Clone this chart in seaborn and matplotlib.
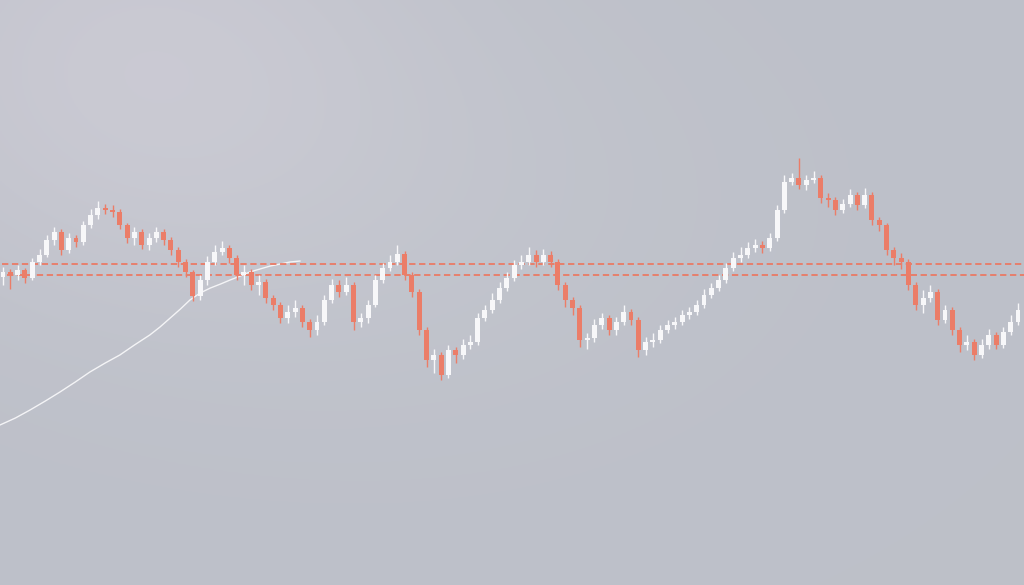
import numpy as np
import pandas as pd
import matplotlib
matplotlib.use("Agg")
import matplotlib.pyplot as plt
import seaborn as sns

# ---- data (price units) ----
opens = [308, 313, 310, 315, 307, 323, 330, 345, 353, 335, 347, 343, 360, 370, 377, 375, 373, 360, 347, 353,
         340, 347, 353, 345, 335, 323, 313, 289, 305, 323, 333, 337, 327, 310, 313, 300, 303, 287, 280, 267,
         273, 277, 263, 255, 263, 285, 300, 293, 300, 263, 267, 280, 305, 317, 323, 331, 310, 293, 255, 225,
         230, 210, 235, 230, 240, 243, 267, 275, 285, 297, 307, 320, 323, 330, 323, 330, 323, 300, 285, 277,
         245, 247, 260, 267, 255, 263, 273, 265, 235, 243, 245, 255, 260, 263, 270, 273, 280, 290, 297, 305,
         317, 327, 330, 337, 340, 337, 347, 375, 403, 407, 400, 405, 407, 387, 385, 375, 381, 390, 380, 390,
         365, 360, 335, 327, 323, 300, 280, 287, 293, 265, 275, 255, 240, 243, 230, 240, 250, 240, 253, 263]
closes = [313, 310, 315, 307, 323, 330, 345, 353, 335, 347, 343, 360, 370, 377, 375, 373, 360, 347, 353, 340,
          347, 353, 345, 335, 323, 313, 289, 305, 323, 333, 337, 327, 310, 313, 300, 303, 287, 280, 267, 273,
          277, 263, 255, 263, 285, 300, 293, 300, 263, 267, 280, 305, 317, 323, 331, 310, 293, 255, 225, 230,
          210, 235, 230, 240, 243, 267, 275, 285, 297, 307, 320, 323, 330, 323, 330, 323, 300, 285, 277, 245,
          247, 260, 267, 255, 263, 273, 265, 235, 243, 245, 255, 260, 263, 270, 273, 280, 290, 297, 305, 317,
          327, 330, 337, 340, 337, 347, 375, 403, 407, 400, 405, 407, 387, 385, 375, 381, 390, 380, 390, 365,
          360, 335, 327, 323, 300, 280, 287, 293, 265, 275, 255, 240, 243, 230, 240, 250, 240, 253, 263, 275]
highs = [318, 316, 320, 317, 327, 336, 350, 358, 356, 352, 350, 364, 376, 384, 381, 380, 376, 362, 358, 356,
         352, 358, 356, 348, 338, 326, 315, 310, 329, 340, 344, 340, 330, 320, 316, 310, 306, 290, 283, 280,
         285, 280, 266, 270, 290, 306, 305, 308, 303, 272, 285, 310, 322, 330, 340, 334, 313, 296, 258, 236,
         233, 240, 238, 246, 250, 272, 280, 292, 303, 313, 325, 330, 338, 335, 336, 334, 326, 303, 288, 280,
         252, 266, 272, 270, 268, 280, 276, 268, 248, 252, 260, 265, 268, 275, 278, 285, 296, 302, 310, 322,
         333, 338, 343, 346, 344, 352, 380, 410, 412, 427, 410, 414, 410, 392, 388, 386, 396, 393, 397, 393,
         368, 362, 338, 332, 326, 303, 295, 300, 296, 280, 278, 258, 250, 246, 246, 256, 253, 258, 270, 282]
lows = [300, 296, 305, 302, 305, 320, 328, 340, 330, 332, 338, 340, 357, 366, 371, 368, 356, 342, 340, 336,
        335, 343, 340, 330, 318, 308, 284, 285, 300, 320, 330, 322, 305, 300, 295, 290, 282, 275, 262, 262,
        268, 258, 248, 250, 260, 282, 288, 290, 255, 258, 262, 278, 302, 314, 320, 305, 288, 250, 218, 212,
        205, 207, 222, 226, 236, 240, 264, 272, 282, 294, 304, 316, 320, 318, 320, 318, 295, 278, 270, 238,
        236, 243, 256, 250, 250, 260, 260, 228, 230, 238, 242, 252, 256, 260, 266, 270, 277, 287, 294, 302,
        314, 323, 327, 333, 332, 334, 344, 372, 400, 396, 395, 402, 382, 378, 370, 372, 378, 375, 377, 360,
        354, 330, 320, 316, 295, 275, 272, 283, 260, 262, 250, 233, 235, 225, 227, 236, 236, 237, 250, 260]

level_upper = 321
level_lower = 310
level_upper_start = -0.1
level_lower_start = 0.6

curve_x = [-0.41, 1.7, 3.7, 5.8, 7.8, 9.9, 11.9, 14.0, 16.0, 18.0, 20.1, 21.5, 22.9, 24.3, 25.6,
           27.0, 28.4, 29.8, 31.1, 32.5, 33.8, 35.2, 36.6, 38.0, 39.3, 40.7]
curve_y = [160, 167, 175, 184, 193, 203, 213, 222, 230, 240, 250, 258, 267, 276, 285,
           292, 297, 301, 305, 309, 313, 316, 319, 321, 323, 324]

df = pd.DataFrame({"open": opens, "close": closes, "high": highs, "low": lows})
df["idx"] = np.arange(len(df))

sns.set_theme(style="white")

W, H = 1024, 585
fig = plt.figure(figsize=(W / 100, H / 100), dpi=100)
ax = fig.add_axes([0, 0, 1, 1])

x0, x1 = -0.41, 139.82
y0, y1 = 0, 585
ax.set_xlim(x0, x1)
ax.set_ylim(y0, y1)

# background gradient
gx = np.linspace(0, 1, 512)
gy = np.linspace(0, 1, 300)
GX, GY = np.meshgrid(gx, gy)  # GY=0 top
base = np.array([0.742, 0.753, 0.788])
img = np.ones((300, 512, 3)) * base
# light glow top-left
d1 = np.sqrt(((GX - 0.13) / 0.28) ** 2 + ((GY - 0.10) / 0.38) ** 2)
g1 = np.exp(-d1 ** 2)
img += g1[..., None] * np.array([0.045, 0.033, 0.035])
# mild lighter zone centre
d2 = np.sqrt(((GX - 0.40) / 0.35) ** 2 + ((GY - 0.35) / 0.4) ** 2)
g2 = np.exp(-d2 ** 2)
img += g2[..., None] * np.array([0.014, 0.014, 0.012])
img = np.clip(img, 0, 1)
ax.imshow(img, extent=[x0, x1, y0, y1], aspect="auto", zorder=0, origin="upper")

# white smooth curve
sns.lineplot(x=curve_x, y=curve_y, ax=ax, color="#f4f4f6", lw=1.0, sort=False, zorder=2)

# dashed levels
red = "#ea7a65"
ax.hlines(level_upper, level_upper_start, x1, colors=red, linestyles=(0, (3.5, 2.0)), lw=1.3, zorder=3)
ax.hlines(level_lower, level_lower_start, x1, colors=red, linestyles=(0, (3.5, 2.0)), lw=1.3, zorder=3)

# candles
up = df["close"] >= df["open"]
colors = np.where(up, "#f7f7f9", "#eb7d68")
ax.vlines(df["idx"], df["low"], df["high"], colors=colors, lw=1.0, zorder=4)
bottom = np.minimum(df["open"], df["close"])
height = np.abs(df["close"] - df["open"]).clip(lower=1.5)
ax.bar(df["idx"], height, bottom=bottom, width=0.68, color=colors, edgecolor="none", zorder=5)

ax.set_axis_off()
fig.savefig("out.png", dpi=100)
